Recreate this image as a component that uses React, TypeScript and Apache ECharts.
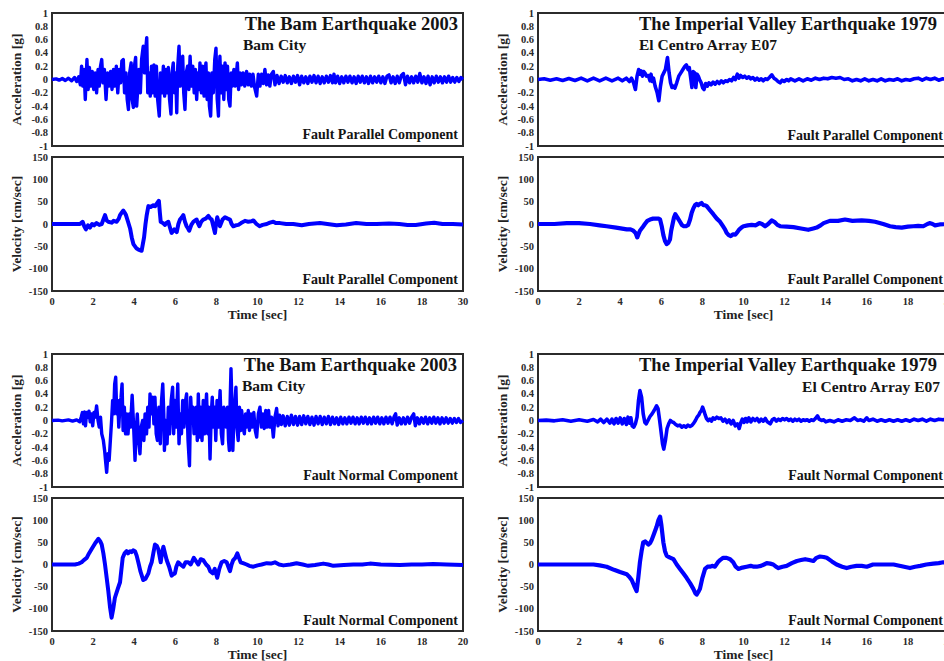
import React, { useEffect, useRef } from "react";
import * as echarts from "echarts";

type P = [number, number][];

// ---- X / Y tick data ----
const xTicksMax = 20;
const topLastLabel = "30";
const bottomLastLabel = "20";

// ---- Bam 2003, fault parallel, acceleration [g] ----
const bamFpAcc: P = [
  [0,0],[0.2,0.01],[0.35,-0.01],[0.5,0.015],[0.65,-0.015],[0.8,0.02],[0.95,-0.02],[1.1,0.03],[1.2,-0.03],[1.3,0.04],
  [1.38,-0.08],[1.44,0.2],[1.5,-0.1],[1.56,0.15],[1.62,-0.3],[1.7,0.3],[1.76,-0.15],[1.82,0.18],[1.9,-0.1],[1.96,0.12],
  [2.03,-0.15],[2.1,0.1],[2.17,-0.2],[2.24,0.15],[2.3,-0.1],[2.36,0.2],[2.42,0.3],[2.48,-0.05],[2.55,0.15],[2.63,-0.3],
  [2.7,0.1],[2.78,-0.1],[2.85,0.12],[2.92,-0.15],[2.99,0.15],[3.06,-0.1],[3.13,0.2],[3.2,-0.2],[3.27,0.15],[3.34,-0.05],
  [3.4,0.28],[3.47,0.3],[3.53,-0.2],[3.6,0.1],[3.66,-0.3],[3.72,-0.45],[3.78,0.1],[3.85,0.25],[3.9,-0.3],[3.96,-0.42],
  [4.01,0.2],[4.07,0.33],[4.12,-0.4],[4.18,-0.1],[4.23,0.15],[4.3,-0.2],[4.36,0.3],[4.44,0.5],[4.5,0.1],[4.56,0.45],
  [4.61,0.63],[4.66,-0.2],[4.72,0.1],[4.78,-0.25],[4.84,0.2],[4.9,-0.2],[4.96,0.22],[5.02,-0.25],[5.08,0.2],[5.14,-0.3],
  [5.22,-0.55],[5.28,0.1],[5.35,-0.2],[5.42,0.2],[5.48,-0.25],[5.54,0.15],[5.6,-0.2],[5.66,0.18],[5.72,-0.3],[5.79,-0.52],
  [5.84,0.1],[5.9,0.25],[5.96,-0.2],[6.02,0.1],[6.07,-0.5],[6.12,0.2],[6.18,0.5],[6.24,-0.1],[6.3,0.2],[6.36,0.35],
  [6.41,-0.2],[6.47,-0.45],[6.53,0.1],[6.6,0.2],[6.66,-0.15],[6.72,0.35],[6.78,-0.1],[6.85,0.2],[6.92,-0.2],[6.98,0.15],
  [7.04,-0.3],[7.1,0.1],[7.16,-0.15],[7.2,0.25],[7.27,-0.2],[7.33,0.2],[7.4,-0.25],[7.45,0.1],[7.49,0.25],[7.55,-0.3],
  [7.61,0.1],[7.66,-0.4],[7.72,-0.55],[7.78,0.1],[7.85,-0.2],[7.92,0.3],[7.98,0.47],[8.04,-0.3],[8.1,-0.55],[8.14,0.1],
  [8.17,0.35],[8.23,-0.2],[8.3,0.2],[8.36,-0.3],[8.42,0.25],[8.48,-0.15],[8.54,0.2],[8.6,-0.3],[8.66,-0.4],[8.72,0.1],
  [8.78,-0.1],[8.85,0.15],[8.92,-0.1],[9.02,0.25],[9.08,-0.15],[9.15,0.1],[9.22,-0.08],[9.3,0.1],[9.38,-0.1],[9.47,0.12],
  [9.55,-0.08],[9.62,0.08],[9.7,-0.1],[9.78,0.08],[9.86,-0.12],[9.96,-0.25],[10.04,0.08],[10.12,-0.1],[10.2,0.08],[10.28,-0.06],
  [10.36,0.15],[10.44,-0.08],[10.52,0.07],[10.6,-0.1],[10.68,0.08],[10.77,0.12],[10.85,-0.08],[10.95,0.06],
  [11.05,-0.06],[11.15,0.05],[11.25,-0.04],[11.35,0.06],[11.45,-0.05],[11.55,0.04],[11.65,-0.06],[11.75,0.05],[11.85,-0.04],[11.95,0.06],
  [12.05,-0.08],[12.15,0.05],[12.25,-0.05],[12.35,0.04],[12.45,-0.06],[12.55,0.05],[12.65,-0.04],[12.75,0.06],[12.85,-0.05],[12.95,0.05],
  [13.05,-0.06],[13.15,0.04],[13.25,-0.05],[13.35,0.05],[13.45,-0.04],[13.55,0.06],[13.65,-0.05],[13.72,0.08],[13.8,-0.05],[13.9,0.05],
  [14.0,-0.06],[14.1,0.04],[14.2,-0.05],[14.3,0.05],[14.4,-0.04],[14.5,0.05],[14.6,-0.05],[14.7,0.04],[14.8,-0.06],[14.9,0.05],
  [15.0,-0.04],[15.1,0.05],[15.2,-0.05],[15.3,0.04],[15.4,-0.06],[15.5,0.05],[15.6,-0.05],[15.7,0.04],[15.8,-0.04],[15.9,0.05],
  [16.0,-0.05],[16.1,0.04],[16.2,-0.06],[16.3,0.05],[16.4,0.07],[16.5,-0.05],[16.6,0.04],[16.7,-0.06],[16.8,0.05],[16.9,-0.05],
  [17.0,0.06],[17.1,0.09],[17.2,-0.08],[17.3,0.05],[17.4,-0.05],[17.5,0.04],[17.6,-0.05],[17.7,0.05],[17.8,-0.04],[17.9,0.09],
  [18.0,-0.05],[18.1,0.04],[18.2,-0.06],[18.3,0.05],[18.4,-0.08],[18.5,0.04],[18.6,-0.05],[18.7,0.05],[18.8,-0.04],[18.9,0.04],
  [19.0,-0.05],[19.1,0.04],[19.2,-0.04],[19.3,0.05],[19.4,-0.04],[19.5,0.03],[19.6,-0.04],[19.7,0.03],[19.8,-0.03],[19.9,0.03],[20,0]
];

// ---- Bam 2003, fault parallel, velocity [cm/sec] ----
const bamFpVel: P = [
  [0,0],[1.0,0],[1.36,0],[1.49,5],[1.57,-5],[1.65,-12],[1.75,-3],[1.85,-8],[1.95,0],[2.05,-3],[2.17,2],[2.3,-2],[2.42,0],
  [2.5,10],[2.58,20],[2.66,8],[2.74,5],[2.9,3],[3.0,7],[3.15,5],[3.25,12],[3.31,20],[3.4,26],[3.47,30],[3.54,25],[3.6,20],
  [3.7,5],[3.8,-10],[3.88,-30],[3.96,-45],[4.04,-50],[4.12,-55],[4.24,-58],[4.36,-60],[4.42,-45],[4.48,-30],[4.55,0],
  [4.61,20],[4.69,40],[4.8,38],[4.93,42],[5.02,40],[5.09,45],[5.2,52],[5.25,25],[5.29,5],[5.4,2],[5.5,-2],[5.58,3],
  [5.66,5],[5.74,-8],[5.82,-20],[5.95,-12],[6.07,-18],[6.15,0],[6.23,10],[6.32,15],[6.39,20],[6.47,5],[6.55,-5],[6.62,-10],
  [6.68,-15],[6.78,-2],[6.88,5],[6.96,8],[7.04,10],[7.1,2],[7.17,-5],[7.26,5],[7.36,10],[7.48,12],[7.61,18],[7.7,12],
  [7.77,10],[7.85,-5],[7.93,-20],[7.98,0],[8.04,15],[8.1,5],[8.17,-5],[8.3,10],[8.42,15],[8.55,12],[8.66,10],[8.74,0],
  [8.82,-5],[8.95,-3],[9.07,-2],[9.2,2],[9.39,7],[9.55,5],[9.7,6],[9.8,8],[9.95,0],[10.1,-5],[10.25,-2],[10.45,0],
  [10.6,3],[10.77,5],[10.9,2],[11.1,2],[11.4,0],[11.74,0],[12.15,-3],[12.5,0],[13.04,2],[13.4,0],[13.85,-3],[14.3,-1],
  [14.8,2],[15.3,0],[15.8,0],[16.4,1],[16.9,0],[17.3,-2],[17.7,-2],[18.2,1],[18.6,3],[19.0,0],[19.5,0],[20,-1]
];

// ---- Bam 2003, fault normal, acceleration [g] ----
const bamFnAcc: P = [
  [0,0],[0.3,0.005],[0.5,-0.005],[0.8,0.01],[1.0,-0.01],[1.2,0.01],[1.35,-0.02],[1.42,0.05],
  [1.48,0.12],[1.53,-0.05],[1.58,0.13],[1.63,-0.08],[1.68,0.12],[1.74,0.05],[1.8,0.14],[1.86,-0.02],[1.92,0.1],[1.98,-0.08],
  [2.04,0.12],[2.1,0.05],[2.17,0.22],[2.24,0.0],[2.3,-0.1],[2.36,0.05],[2.42,-0.2],[2.5,-0.3],[2.56,-0.45],[2.62,-0.65],
  [2.66,-0.78],[2.72,-0.5],[2.78,-0.6],[2.84,-0.3],[2.9,0.0],[2.95,0.3],[3.0,0.1],[3.05,0.55],[3.1,0.65],[3.15,0.1],
  [3.2,0.3],[3.25,-0.1],[3.3,0.2],[3.36,0.35],[3.41,0.55],[3.46,-0.15],[3.52,0.2],[3.58,-0.2],[3.64,0.1],[3.7,-0.2],
  [3.76,0.1],[3.82,-0.1],[3.9,0.38],[3.96,0.0],[4.04,-0.6],[4.09,-0.2],[4.15,0.1],[4.22,-0.3],[4.28,-0.5],[4.34,-0.1],
  [4.41,0.0],[4.47,-0.3],[4.53,0.1],[4.6,-0.2],[4.66,0.2],[4.72,-0.1],[4.77,0.4],[4.83,0.1],[4.9,0.35],[4.96,-0.05],
  [5.01,0.35],[5.07,-0.2],[5.13,-0.3],[5.2,0.2],[5.27,-0.35],[5.33,0.3],[5.39,0.55],[5.44,0.1],[5.47,-0.45],[5.53,0.0],
  [5.6,-0.35],[5.66,0.2],[5.72,-0.2],[5.8,0.3],[5.87,0.5],[5.92,-0.2],[5.98,0.3],[6.04,-0.1],[6.12,0.55],[6.18,-0.35],
  [6.24,0.1],[6.3,-0.2],[6.36,0.3],[6.42,-0.1],[6.5,0.3],[6.55,0.4],[6.62,-0.3],[6.69,-0.68],[6.75,0.35],[6.8,0.0],
  [6.86,0.2],[6.91,-0.2],[6.96,-0.1],[7.02,0.2],[7.07,-0.3],[7.12,0.4],[7.18,-0.25],[7.24,0.2],[7.3,-0.3],[7.36,0.3],
  [7.42,-0.2],[7.47,0.1],[7.52,0.4],[7.58,-0.2],[7.63,0.2],[7.69,-0.58],[7.75,0.1],[7.8,0.35],[7.86,-0.1],[7.92,0.2],
  [7.97,-0.3],[8.03,0.3],[8.09,-0.1],[8.14,0.2],[8.18,0.45],[8.24,-0.2],[8.3,-0.35],[8.36,0.2],[8.42,0.1],[8.48,-0.1],
  [8.54,0.2],[8.59,-0.3],[8.63,-0.45],[8.67,0.3],[8.71,0.78],[8.76,0.2],[8.8,-0.45],[8.86,0.1],[8.91,0.3],[8.95,0.5],
  [9.0,-0.1],[9.06,-0.3],[9.12,0.2],[9.18,-0.15],[9.23,0.15],[9.3,-0.1],[9.36,-0.2],[9.42,0.1],[9.48,-0.1],[9.55,0.15],
  [9.61,-0.15],[9.68,0.1],[9.75,-0.1],[9.82,0.12],[9.89,-0.15],[9.96,-0.25],[10.04,0.1],[10.12,0.2],[10.19,-0.1],[10.26,0.1],
  [10.33,-0.12],[10.4,0.15],[10.47,-0.1],[10.54,0.15],[10.6,-0.1],[10.68,0.05],[10.77,-0.25],[10.85,0.05],[10.93,0.18],[11.0,-0.08],
  [11.08,0.08],[11.16,-0.06],[11.25,0.07],[11.35,-0.08],[11.45,0.06],[11.55,-0.07],[11.65,0.08],[11.75,-0.06],[11.85,0.06],[11.95,-0.07],
  [12.05,0.06],[12.15,-0.06],[12.25,0.07],[12.35,-0.05],[12.45,0.06],[12.55,-0.06],[12.65,0.05],[12.75,-0.07],[12.85,0.06],[12.95,-0.05],
  [13.05,0.06],[13.15,-0.06],[13.25,0.05],[13.35,-0.05],[13.45,0.06],[13.55,-0.06],[13.65,0.05],[13.75,-0.05],[13.85,0.04],[13.95,-0.06],
  [14.05,0.05],[14.15,-0.05],[14.25,0.04],[14.35,-0.05],[14.45,0.05],[14.55,-0.04],[14.65,0.05],[14.75,-0.05],[14.85,0.04],[14.95,-0.05],
  [15.05,0.05],[15.15,-0.04],[15.25,0.05],[15.35,-0.05],[15.45,0.04],[15.55,-0.05],[15.65,0.05],[15.75,-0.04],[15.85,0.05],[15.95,-0.05],
  [16.05,0.04],[16.15,-0.05],[16.25,0.05],[16.35,-0.04],[16.45,0.05],[16.55,-0.05],[16.65,0.06],[16.72,0.1],[16.8,-0.07],[16.9,0.04],
  [17.0,-0.05],[17.1,0.04],[17.2,-0.05],[17.3,0.05],[17.4,-0.04],[17.5,0.05],[17.6,0.1],[17.68,-0.08],[17.78,0.04],[17.88,-0.05],
  [17.98,0.04],[18.08,-0.04],[18.18,0.05],[18.28,-0.05],[18.38,0.04],[18.48,-0.04],[18.58,0.05],[18.68,-0.04],[18.78,0.04],[18.88,-0.05],
  [18.98,0.04],[19.08,-0.04],[19.18,0.04],[19.28,-0.04],[19.38,0.03],[19.48,-0.04],[19.58,0.03],[19.68,-0.03],[19.78,0.03],[19.88,-0.03],[20,0]
];

// ---- Bam 2003, fault normal, velocity [cm/sec] ----
const bamFnVel: P = [
  [0,0],[1.12,0],[1.3,2],[1.44,5],[1.55,10],[1.69,15],[1.8,25],[1.93,35],[2.1,48],[2.26,58],[2.35,52],[2.42,45],[2.5,25],
  [2.58,0],[2.66,-30],[2.74,-60],[2.82,-95],[2.9,-120],[2.98,-100],[3.06,-75],[3.2,-55],[3.31,-40],[3.38,-10],[3.44,15],
  [3.53,25],[3.63,30],[3.7,25],[3.8,30],[3.87,28],[3.95,32],[4.04,30],[4.12,20],[4.2,5],[4.3,-15],[4.44,-35],[4.55,-32],
  [4.69,-20],[4.77,-5],[4.85,5],[4.93,25],[5.01,45],[5.1,42],[5.17,35],[5.23,20],[5.29,5],[5.35,25],[5.42,40],[5.5,25],
  [5.58,10],[5.7,-5],[5.82,-25],[5.9,-22],[5.98,-20],[6.05,-5],[6.14,5],[6.25,0],[6.39,-5],[6.5,5],[6.63,5],[6.75,0],
  [6.9,15],[7.0,8],[7.12,0],[7.24,12],[7.36,10],[7.5,0],[7.61,-5],[7.7,-15],[7.82,-20],[7.92,-10],[8.04,-30],[8.14,-10],
  [8.25,5],[8.38,8],[8.5,5],[8.58,-5],[8.66,-15],[8.74,0],[8.82,10],[8.92,15],[9.02,25],[9.1,15],[9.18,5],[9.3,3],
  [9.47,0],[9.6,-3],[9.8,-5],[10.0,-2],[10.2,0],[10.45,3],[10.65,2],[10.85,5],[11.05,0],[11.26,-2],[11.6,0],[11.9,3],
  [12.2,0],[12.47,-3],[12.8,-1],[13.2,2],[13.45,0],[13.69,-3],[14.2,-1],[14.66,0],[15.1,0],[15.47,2],[16.0,0],[16.93,-1],
  [17.5,0],[18.0,0],[18.55,1],[19.2,0],[20,-1]
];

// ---- Imperial Valley 1979, fault parallel, acceleration [g] ----
const ivFpAcc: P = [
  [0,0],[0.3,0.01],[0.6,-0.01],[0.9,0.01],[1.2,-0.015],[1.5,0.015],[1.8,-0.015],[2.1,0.02],[2.4,-0.02],[2.7,0.02],
  [3.0,-0.02],[3.3,0.02],[3.6,-0.02],[3.9,0.02],[4.1,-0.02],[4.3,0.02],[4.45,-0.03],[4.55,0.02],[4.65,-0.05],[4.74,-0.15],
  [4.82,0.05],[4.9,0.15],[4.96,0.08],[5.02,0.13],[5.08,0.05],[5.14,0.12],[5.2,0.1],[5.28,0.05],[5.37,0.06],[5.45,-0.02],
  [5.5,0.08],[5.56,-0.03],[5.62,0.02],[5.7,-0.1],[5.8,-0.2],[5.88,-0.32],[5.96,-0.1],[6.04,0.05],[6.12,0.1],[6.2,0.15],
  [6.3,0.33],[6.38,0.1],[6.45,-0.05],[6.52,-0.12],[6.6,-0.1],[6.66,-0.13],[6.75,-0.05],[6.85,0.05],[6.95,0.1],[7.05,0.15],
  [7.15,0.2],[7.22,0.22],[7.3,0.15],[7.36,0.18],[7.42,0.05],[7.49,-0.12],[7.55,0.12],[7.62,0.1],[7.68,-0.12],[7.74,0.08],
  [7.8,0.05],[7.86,0.0],[7.94,-0.05],[8.02,-0.13],[8.08,-0.15],[8.16,-0.06],[8.24,-0.1],[8.32,-0.05],[8.42,-0.08],[8.52,-0.04],
  [8.62,-0.07],[8.72,-0.03],[8.82,-0.06],[8.92,-0.02],[9.02,-0.05],[9.12,-0.02],[9.22,-0.03],[9.32,0.0],[9.42,-0.02],[9.52,0.03],
  [9.6,0.0],[9.7,0.08],[9.78,0.02],[9.86,0.06],[9.96,0.03],[10.06,0.05],[10.16,0.02],[10.26,0.04],[10.36,0.01],[10.46,0.03],
  [10.56,-0.01],[10.66,0.02],[10.76,-0.01],[10.86,0.01],[10.96,-0.02],[11.06,0.01],[11.16,0.0],[11.26,0.03],[11.38,0.07],[11.48,0.02],
  [11.58,0.0],[11.68,-0.03],[11.78,-0.05],[11.88,-0.01],[11.98,-0.03],[12.1,0.0],[12.2,-0.02],[12.3,0.01],[12.5,-0.02],[12.7,0.01],
  [12.9,-0.02],[13.1,0.01],[13.3,-0.01],[13.5,0.02],[13.7,0.0],[13.9,0.02],[14.1,0.01],[14.3,0.03],[14.5,0.02],[14.7,0.03],
  [14.9,0.0],[15.1,0.01],[15.3,-0.02],[15.5,0.0],[15.7,-0.02],[15.9,0.01],[16.1,-0.02],[16.3,0.0],[16.5,-0.02],[16.7,0.01],
  [16.9,-0.02],[17.1,0.0],[17.3,-0.01],[17.5,0.01],[17.7,-0.02],[17.9,0.0],[18.1,-0.01],[18.3,0.01],[18.5,0.02],[18.7,-0.01],
  [18.9,0.02],[19.1,0.0],[19.3,0.02],[19.5,-0.01],[19.7,0.01],[19.9,0.0],[20,0.01]
];

// ---- Imperial Valley 1979, fault parallel, velocity [cm/sec] ----
const ivFpVel: P = [
  [0,0],[0.8,0],[1.4,2],[2.0,2],[2.53,0],[3.0,-3],[3.34,-5],[3.8,-8],[4.32,-12],[4.5,-12],[4.64,-15],[4.75,-20],[4.83,-30],
  [4.9,-22],[4.96,-15],[5.08,-8],[5.2,0],[5.32,7],[5.45,10],[5.6,12],[5.77,12],[5.88,12],[5.94,10],[6.02,-5],[6.1,-25],
  [6.18,-38],[6.26,-45],[6.34,-42],[6.42,-35],[6.48,-15],[6.55,0],[6.62,15],[6.68,22],[6.78,15],[6.91,5],[7.0,-2],[7.1,-5],
  [7.2,-5],[7.31,-2],[7.4,10],[7.48,25],[7.56,35],[7.64,42],[7.72,45],[7.8,42],[7.88,45],[7.96,47],[8.05,42],[8.13,42],
  [8.21,40],[8.35,32],[8.53,22],[8.7,12],[8.86,5],[9.0,-5],[9.1,-12],[9.18,-20],[9.28,-25],[9.38,-27],[9.5,-23],[9.6,-24],
  [9.67,-20],[9.8,-12],[9.9,-8],[10.0,-5],[10.2,-3],[10.4,-2],[10.6,-3],[10.77,2],[10.9,0],[11.05,-5],[11.2,0],[11.37,8],
  [11.5,5],[11.65,-2],[11.78,-5],[12.1,-6],[12.43,-7],[12.8,-10],[13.15,-13],[13.4,-10],[13.56,-8],[13.75,-3],[13.9,2],
  [14.2,7],[14.6,7],[14.94,10],[15.3,7],[15.75,8],[16.1,7],[16.4,5],[16.8,0],[17.13,-5],[17.4,-7],[17.7,-8],[18.0,-6],
  [18.26,-5],[18.5,-4],[18.75,-5],[18.95,0],[19.08,2],[19.2,0],[19.32,-3],[19.55,-1],[20,0]
];

// ---- Imperial Valley 1979, fault normal, acceleration [g] ----
const ivFnAcc: P = [
  [0,0],[0.4,0.005],[0.8,-0.005],[1.2,0.01],[1.6,-0.01],[2.0,0.01],[2.4,-0.01],[2.7,0.015],[2.9,-0.02],[3.05,0.02],
  [3.2,-0.03],[3.35,0.02],[3.5,-0.04],[3.6,0.02],[3.7,-0.05],[3.8,0.03],[3.9,-0.04],[4.0,0.04],[4.1,-0.05],[4.2,0.03],
  [4.3,-0.06],[4.38,0.05],[4.45,-0.04],[4.52,0.04],[4.58,-0.08],[4.66,-0.1],[4.74,-0.05],[4.82,0.05],[4.89,0.3],[4.96,0.45],
  [5.04,0.35],[5.12,0.1],[5.2,-0.03],[5.27,-0.05],[5.35,0.0],[5.45,0.06],[5.55,0.1],[5.65,0.15],[5.77,0.22],[5.84,0.18],
  [5.92,0.0],[6.0,-0.2],[6.06,-0.35],[6.12,-0.43],[6.2,-0.3],[6.28,-0.12],[6.36,-0.05],[6.44,0.0],[6.52,-0.02],[6.6,-0.03],
  [6.7,-0.06],[6.8,-0.08],[6.9,-0.07],[7.0,-0.1],[7.1,-0.08],[7.2,-0.1],[7.3,-0.07],[7.4,-0.09],[7.5,-0.07],[7.58,-0.04],
  [7.66,0.0],[7.74,0.05],[7.82,0.08],[7.88,0.12],[7.95,0.15],[8.01,0.2],[8.07,0.15],[8.14,0.08],[8.2,0.03],[8.28,0.0],
  [8.36,0.02],[8.44,-0.01],[8.52,0.04],[8.6,0.02],[8.7,0.05],[8.8,0.03],[8.9,0.04],[9.0,-0.01],[9.1,0.02],[9.2,-0.03],
  [9.3,0.01],[9.4,-0.05],[9.5,0.0],[9.6,-0.08],[9.7,-0.05],[9.79,-0.12],[9.86,-0.04],[9.94,0.02],[10.02,-0.03],[10.1,0.03],
  [10.18,-0.02],[10.26,0.04],[10.36,-0.02],[10.46,0.03],[10.56,0.0],[10.66,0.03],[10.76,-0.02],[10.86,0.02],[10.96,-0.01],[11.06,0.03],
  [11.16,-0.02],[11.3,-0.05],[11.4,0.01],[11.5,0.03],[11.6,-0.01],[11.7,0.02],[11.8,0.0],[11.9,0.03],[12.0,0.01],[12.1,0.03],
  [12.2,0.0],[12.3,0.02],[12.4,-0.01],[12.5,0.02],[12.6,0.0],[12.7,0.02],[12.8,-0.01],[12.9,0.01],[13.0,0.0],[13.1,0.01],
  [13.2,-0.01],[13.3,0.01],[13.4,0.0],[13.5,0.03],[13.6,0.07],[13.68,0.02],[13.8,0.0],[13.9,0.01],[14.0,-0.02],[14.2,0.0],
  [14.4,-0.02],[14.6,0.01],[14.8,-0.01],[15.0,0.01],[15.2,0.0],[15.4,0.04],[15.55,0.0],[15.7,0.01],[15.85,-0.01],[16.0,0.04],
  [16.1,0.0],[16.3,0.02],[16.5,-0.01],[16.7,0.01],[16.9,-0.01],[17.1,0.01],[17.3,-0.01],[17.5,0.01],[17.7,-0.01],[17.9,0.01],
  [18.1,-0.01],[18.3,0.02],[18.5,0.0],[18.7,0.02],[18.9,-0.01],[19.1,0.02],[19.3,0.0],[19.5,0.02],[19.7,0.01],[19.9,0.02],[20,0.01]
];

// ---- Imperial Valley 1979, fault normal, velocity [cm/sec] ----
const ivFnVel: P = [
  [0,0],[1.0,0],[2.0,0],[2.7,0],[3.0,-2],[3.34,-5],[3.7,-12],[3.99,-17],[4.32,-22],[4.45,-28],[4.56,-35],[4.68,-48],
  [4.8,-60],[4.88,-30],[4.96,5],[5.04,30],[5.12,50],[5.22,52],[5.37,45],[5.45,48],[5.53,55],[5.65,70],[5.77,85],[5.86,100],
  [5.94,108],[6.0,90],[6.1,50],[6.18,30],[6.26,20],[6.4,16],[6.59,12],[6.75,0],[6.91,-10],[7.07,-20],[7.23,-30],[7.4,-42],
  [7.56,-55],[7.66,-65],[7.72,-68],[7.8,-62],[7.88,-55],[8.0,-30],[8.13,-10],[8.25,-5],[8.37,-5],[8.5,-3],[8.61,-5],
  [8.75,5],[8.86,10],[9.0,15],[9.18,15],[9.35,12],[9.5,5],[9.62,-5],[9.75,-10],[9.95,-7],[10.15,-5],[10.35,-3],[10.5,-5],
  [10.64,-5],[10.85,-3],[11.0,0],[11.13,3],[11.3,2],[11.45,0],[11.58,-5],[11.7,-8],[11.9,-5],[12.1,-3],[12.35,3],[12.6,8],
  [12.8,10],[13.0,12],[13.2,10],[13.4,8],[13.55,15],[13.72,18],[13.9,17],[14.05,15],[14.3,7],[14.53,0],[14.8,-5],[15.02,-8],
  [15.25,-5],[15.5,-3],[15.75,-3],[16.0,-5],[16.3,0],[16.8,0],[17.3,0],[17.7,-4],[18.1,-8],[18.35,-5],[18.6,-3],[18.9,0],
  [19.24,2],[19.5,3],[19.72,5],[20,5]
];

const SERIF = '"Liberation Serif", "Times New Roman", serif';
const BLUE = "#0000ff";

type Panel = {
  data: P;
  kind: "acc" | "vel";
  left: number;
  top: number;
  height: number;
  nameGap: number;
  lastLabel: string;
  lw: number;
};

const panels: Panel[] = [
  { data: bamFpAcc, kind: "acc", left: 52, top: 13, height: 133, nameGap: 16, lastLabel: topLastLabel, lw: 3.4 },
  { data: bamFpVel, kind: "vel", left: 52, top: 157, height: 134, nameGap: 16, lastLabel: topLastLabel, lw: 4 },
  { data: bamFnAcc, kind: "acc", left: 52, top: 354, height: 133, nameGap: 16, lastLabel: bottomLastLabel, lw: 3.4 },
  { data: bamFnVel, kind: "vel", left: 52, top: 498, height: 133, nameGap: 14, lastLabel: bottomLastLabel, lw: 4 },
  { data: ivFpAcc, kind: "acc", left: 538, top: 13, height: 133, nameGap: 16, lastLabel: topLastLabel, lw: 3.6 },
  { data: ivFpVel, kind: "vel", left: 538, top: 157, height: 134, nameGap: 16, lastLabel: topLastLabel, lw: 4.2 },
  { data: ivFnAcc, kind: "acc", left: 538, top: 354, height: 133, nameGap: 16, lastLabel: bottomLastLabel, lw: 3.6 },
  { data: ivFnVel, kind: "vel", left: 538, top: 498, height: 133, nameGap: 14, lastLabel: bottomLastLabel, lw: 4.2 },
];

type Label = { text: string; x: number; base: number; size: number; align: "left" | "right" };

const labels: Label[] = [
  { text: "The Bam Earthquake 2003", x: 458, base: 30.5, size: 18.5, align: "right" },
  { text: "Bam City", x: 243, base: 49.5, size: 15.5, align: "left" },
  { text: "Fault Parallel Component", x: 458, base: 139.5, size: 14, align: "right" },
  { text: "Fault Parallel Component", x: 458, base: 284.5, size: 14, align: "right" },
  { text: "The Bam Earthquake 2003", x: 457, base: 371.5, size: 18.5, align: "right" },
  { text: "Bam City", x: 242, base: 390.5, size: 15.5, align: "left" },
  { text: "Fault Normal Component", x: 458, base: 480.5, size: 14, align: "right" },
  { text: "Fault Normal Component", x: 458, base: 625, size: 14, align: "right" },
  { text: "The Imperial Valley Earthquake 1979", x: 639, base: 30.5, size: 18.5, align: "left" },
  { text: "El Centro Array E07", x: 639, base: 50, size: 15.5, align: "left" },
  { text: "Fault Parallel Component", x: 943, base: 140, size: 14, align: "right" },
  { text: "Fault Parallel Component", x: 943, base: 284.5, size: 14, align: "right" },
  { text: "The Imperial Valley Earthquake 1979", x: 639, base: 371.5, size: 18.5, align: "left" },
  { text: "El Centro Array E07", x: 940, base: 391.5, size: 15.5, align: "right" },
  { text: "Fault Normal Component", x: 943, base: 480.5, size: 14, align: "right" },
  { text: "Fault Normal Component", x: 943, base: 625, size: 14, align: "right" },
];

export default function App() {
  const ref = useRef<HTMLDivElement>(null);

  useEffect(() => {
    document.body.style.margin = "0";
    if (!ref.current) return;
    const chart = echarts.init(ref.current, undefined, { renderer: "svg" });

    const grid = panels.map((p) => ({
      left: p.left,
      top: p.top,
      width: 411,
      height: p.height,
      show: true,
      borderColor: "#2b2b2b",
      borderWidth: 2,
      backgroundColor: "transparent",
      containLabel: false,
      outerBoundsMode: "none",
    }));

    const xAxis = panels.map((p, i) => ({
      type: "value",
      gridIndex: i,
      min: 0,
      max: xTicksMax,
      interval: 2,
      axisLine: { show: false },
      axisTick: { show: false },
      splitLine: { show: false },
      axisLabel: {
        show: p.kind === "vel",
        margin: 5,
        fontFamily: SERIF,
        fontWeight: "bold",
        fontSize: 10.5,
        color: "#2a2a2a",
        formatter: (v: number) => (v === xTicksMax ? p.lastLabel : String(v)),
      },
      name: p.kind === "vel" ? "Time [sec]" : "",
      nameLocation: "middle",
      nameGap: p.nameGap,
      nameTextStyle: { fontFamily: SERIF, fontWeight: "bold", fontSize: 13.5, color: "#222" },
    }));

    const yAxis = panels.map((p, i) => {
      const acc = p.kind === "acc";
      return {
        type: "value",
        gridIndex: i,
        min: acc ? -1 : -150,
        max: acc ? 1 : 150,
        interval: acc ? 0.2 : 50,
        axisLine: { show: false },
        axisTick: { show: false },
        splitLine: { show: false },
        axisLabel: {
          margin: 4,
          fontFamily: SERIF,
          fontWeight: "bold",
          fontSize: 10.5,
          color: "#2a2a2a",
          formatter: (v: number) => (acc ? String(Math.round(v * 10) / 10) : String(Math.round(v))),
        },
        name: acc ? "Acceleration [g]" : "Velocity [cm/sec]",
        nameLocation: "middle",
        nameGap: 29,
        nameTextStyle: { fontFamily: SERIF, fontWeight: "bold", fontSize: 13.5, color: "#222" },
      };
    });

    const series = panels.map((p, i) => ({
      type: "line",
      xAxisIndex: i,
      yAxisIndex: i,
      data: p.data,
      showSymbol: false,
      symbol: "none",
      lineStyle: { color: BLUE, width: p.lw, join: "round" },
      silent: true,
    }));

    const graphic = labels.map((l) => ({
      type: "text",
      x: l.x,
      y: l.base - 0.34 * l.size,
      silent: true,
      style: {
        text: l.text,
        font: `bold ${l.size}px ${SERIF}`,
        fill: "#141414",
        align: l.align,
        verticalAlign: "middle",
        textAlign: l.align,
        textVerticalAlign: "middle",
      },
    }));

    chart.setOption({
      animation: false,
      backgroundColor: "#ffffff",
      grid,
      xAxis,
      yAxis,
      series,
      graphic,
    } as any);

    return () => chart.dispose();
  }, []);

  return <div ref={ref} style={{ width: 944, height: 661 }} />;
}
